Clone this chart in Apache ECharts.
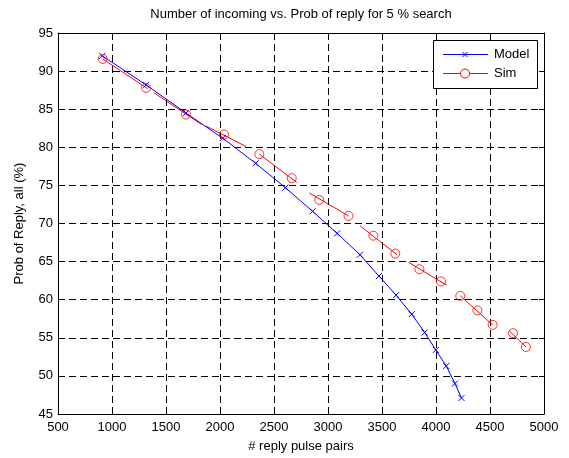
<!DOCTYPE html>
<html>
<head>
<meta charset="utf-8">
<script src="https://cdn.jsdelivr.net/npm/echarts@6/dist/echarts.min.js"></script>
<style>
html,body{margin:0;padding:0;background:#fff;}
#c{width:569px;height:458px;}
</style>
</head>
<body>
<div id="c"></div>
<script>
// Model (blue, x markers)
var modelX = [910, 1315, 1685, 2025, 2330, 2605, 2857, 3085, 3296, 3472, 3630, 3775, 3895, 3998, 4095, 4175, 4236];
var modelY = [92.0, 88.2, 84.5, 81.2, 77.9, 74.7, 71.6, 68.7, 65.9, 63.1, 60.6, 58.1, 55.7, 53.4, 51.3, 49.0, 47.1];
// Sim (red, circle markers)
var simX = [914, 1315, 1685, 2037, 2364, 2664, 2919, 3190, 3420, 3623, 3846, 4046, 4225, 4383, 4525, 4713, 4833];
var simY = [91.6, 87.8, 84.3, 81.7, 79.1, 75.95, 73.1, 71.0, 68.4, 66.05, 64.0, 62.4, 60.5, 58.6, 56.7, 55.6, 53.8];
// Sim line segments (null = break)
var simLineX = [914, 1330, null, 1389, 1830, null, 1870, 2241, null, 2364, 2710, null, 2827, 3190, null, 3296, 3640, null, 3747, 4099, null, 4225, 4525, null, 4679, 4833];
var simLineY = [91.6, 87.7, null, 87.15, 83.0, null, 82.8, 80.1, null, 79.1, 75.4, null, 74.0, 71.0, null, 69.7, 65.9, null, 64.9, 61.9, null, 60.5, 56.7, null, 55.9, 53.8];
// Axes
var xMin = 500, xMax = 5000, xStep = 500;
var yMin = 45, yMax = 95, yStep = 5;
var titleText = 'Number of incoming vs. Prob of reply for 5 % search';
var xName = '# reply pulse pairs';
var yName = 'Prob of Reply, all (%)';
var legendNames = ['Model', 'Sim'];

var FONT = '"Liberation Sans", Arial, Helvetica, sans-serif';
function pairs(xs, ys) {
  var out = [];
  for (var i = 0; i < xs.length; i++) {
    if (xs[i] === null) out.push('-'); else out.push([xs[i], ys[i]]);
  }
  return out;
}
function plain(v) { return String(v); }
var chart = echarts.init(document.getElementById('c'), null, {renderer: 'canvas'});
function axisCommon() {
  return {
    axisLine: {show: true, onZero: false, lineStyle: {color: '#000', width: 1}},
    axisTick: {show: true, inside: true, length: 5, lineStyle: {color: '#000', width: 1}}
  };
}
var option = {
  animation: false,
  backgroundColor: '#fff',
  title: {
    text: titleText, left: 301, top: 8, padding: 0, textAlign: 'center',
    textStyle: {fontFamily: FONT, fontSize: 13, fontWeight: 'normal', color: '#000'}
  },
  grid: {left: 58, right: 25, top: 33, bottom: 41, containLabel: false},
  xAxis: [
    Object.assign({
      type: 'value', min: xMin, max: xMax, interval: xStep, position: 'bottom',
      name: xName, nameLocation: 'middle', nameGap: 26,
      nameTextStyle: {fontFamily: FONT, fontSize: 13, color: '#000'},
      axisLabel: {fontFamily: FONT, fontSize: 13, color: '#000', margin: 7, formatter: plain},
      splitLine: {show: true, lineStyle: {color: '#000', width: 1, type: [7, 4]}}
    }, axisCommon()),
    Object.assign({
      type: 'value', min: xMin, max: xMax, interval: xStep, position: 'top',
      axisLabel: {show: false}, splitLine: {show: false}
    }, axisCommon())
  ],
  yAxis: [
    Object.assign({
      type: 'value', min: yMin, max: yMax, interval: yStep, position: 'left',
      name: yName, nameLocation: 'middle', nameGap: 32, nameRotate: 90,
      nameTextStyle: {fontFamily: FONT, fontSize: 13, color: '#000'},
      axisLabel: {fontFamily: FONT, fontSize: 13, color: '#000', margin: 5, formatter: plain},
      splitLine: {show: true, lineStyle: {color: '#000', width: 1, type: [7, 4]}}
    }, axisCommon()),
    Object.assign({
      type: 'value', min: yMin, max: yMax, interval: yStep, position: 'right',
      axisLabel: {show: false}, splitLine: {show: false}
    }, axisCommon())
  ],
  series: [
    {
      name: legendNames[0], type: 'line', xAxisIndex: 0, yAxisIndex: 0,
      data: pairs(modelX, modelY),
      symbol: 'path://M0,0L10,10M0,10L10,0', symbolSize: 6, showAllSymbol: true,
      itemStyle: {color: 'none', borderColor: '#0000ff', borderWidth: 1},
      lineStyle: {color: '#0000ff', width: 1}, z: 3
    },
    {
      name: legendNames[1] + ' line', type: 'line', xAxisIndex: 0, yAxisIndex: 0,
      data: pairs(simLineX, simLineY), connectNulls: false,
      symbol: 'none', lineStyle: {color: '#ff0000', width: 1}, z: 2
    },
    {
      name: legendNames[1], type: 'scatter', xAxisIndex: 0, yAxisIndex: 0,
      data: pairs(simX, simY), symbol: 'circle', symbolSize: 9,
      itemStyle: {color: 'rgba(0,0,0,0)', borderColor: '#ff0000', borderWidth: 1}, z: 4
    }
  ],
  graphic: [{
    type: 'group', left: 433, top: 40, z: 100, zlevel: 1,
    children: [
      {type: 'rect', z: 100, zlevel: 1, shape: {x: 0.5, y: 0.5, width: 104, height: 48},
       style: {fill: '#fff', stroke: '#000', lineWidth: 1}},
      {type: 'line', z: 101, zlevel: 1, shape: {x1: 10, y1: 14.5, x2: 55, y2: 14.5}, style: {stroke: '#0000ff', lineWidth: 1}},
      {type: 'line', z: 102, zlevel: 1, shape: {x1: 29.5, y1: 12, x2: 34.5, y2: 17}, style: {stroke: '#0000ff', lineWidth: 1}},
      {type: 'line', z: 102, zlevel: 1, shape: {x1: 29.5, y1: 17, x2: 34.5, y2: 12}, style: {stroke: '#0000ff', lineWidth: 1}},
      {type: 'text', z: 102, zlevel: 1, x: 61, y: 14.5, style: {text: legendNames[0], verticalAlign: 'middle',
        font: '13px ' + FONT, fill: '#000'}},
      {type: 'line', z: 101, zlevel: 1, shape: {x1: 10, y1: 33.5, x2: 55, y2: 33.5}, style: {stroke: '#ff0000', lineWidth: 1}},
      {type: 'circle', z: 102, zlevel: 1, shape: {cx: 32, cy: 33.5, r: 4.5}, style: {stroke: '#ff0000', fill: '#fff', lineWidth: 1}},
      {type: 'text', z: 102, zlevel: 1, x: 61, y: 33.5, style: {text: legendNames[1], verticalAlign: 'middle',
        font: '13px ' + FONT, fill: '#000'}}
    ]
  }]
};
chart.setOption(option);
</script>
</body>
</html>
